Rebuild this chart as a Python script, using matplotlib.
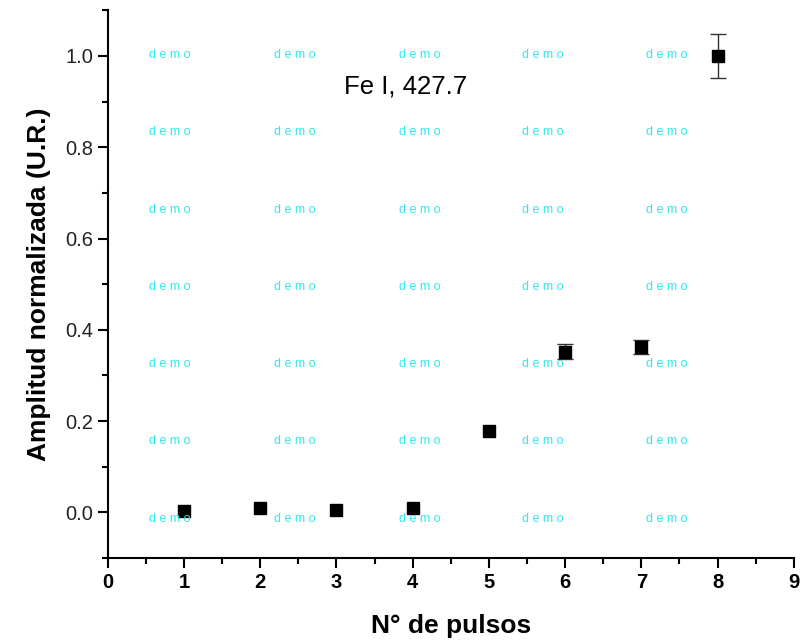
import numpy as np
import matplotlib
matplotlib.use("Agg")
import matplotlib.pyplot as plt
from matplotlib.ticker import MultipleLocator

plt.rcParams['font.family'] = ['Liberation Sans', 'DejaVu Sans']

pulsos = [1, 2, 3, 4, 5, 6, 7, 8]
amplitud = [0.003, 0.010, 0.005, 0.010, 0.178, 0.352, 0.362, 1.0]
error = [0.0, 0.0, 0.0, 0.0, 0.0, 0.016, 0.016, 0.048]

fig = plt.figure(figsize=(8.05, 6.4), dpi=100)
ax = fig.add_axes([0.134, 0.128, 0.852, 0.856])

# error bars only where there is an error
ex = [p for p, e in zip(pulsos, error) if e > 0]
ey = [a for a, e in zip(amplitud, error) if e > 0]
ee = [e for e in error if e > 0]
ax.errorbar(ex, ey, yerr=ee, fmt='none', ecolor='#333333', elinewidth=1,
            capsize=6, capthick=1)
ax.plot(pulsos, amplitud, 's', color='black', ms=9)

ax.set_xlim(0, 9)
ax.set_ylim(-0.1, 1.1)
ax.xaxis.set_major_locator(MultipleLocator(1))
ax.xaxis.set_minor_locator(MultipleLocator(0.5))
ax.yaxis.set_minor_locator(MultipleLocator(0.1))
ax.set_yticks(np.arange(0, 1.01, 0.2))
ax.set_yticklabels(['0.0', '0.2', '0.4', '0.6', '0.8', '1.0'])

for s in ['top', 'right']:
    ax.spines[s].set_visible(False)
for s in ['left', 'bottom']:
    ax.spines[s].set_linewidth(1.5)

ax.tick_params(which='major', direction='out', length=7, width=1.5, labelsize=14.5)
ax.tick_params(which='minor', direction='out', length=4, width=1.5)
ax.tick_params(axis='y', labelcolor='#222222')
for lbl in ax.get_xticklabels():
    lbl.set_fontweight('bold')

ax.set_xlabel('N° de pulsos', fontsize=19, fontweight='bold', labelpad=16)
ax.set_ylabel('Amplitud normalizada (U.R.)', fontsize=19, fontweight='bold', labelpad=10)

ax.text(3.9, 0.934, 'Fe I, 427.7', fontsize=18.5, ha='center', va='center')

# watermark
wx = [170, 295, 420, 543, 667]
wy = [55, 132, 210, 287, 364, 441, 519]
for px in wx:
    for py in wy:
        fig.text(px / 805, 1 - py / 640, 'd e m o', color='#33e6f0', fontsize=9,
                 ha='center', va='center')

fig.savefig('out.png', dpi=100)
